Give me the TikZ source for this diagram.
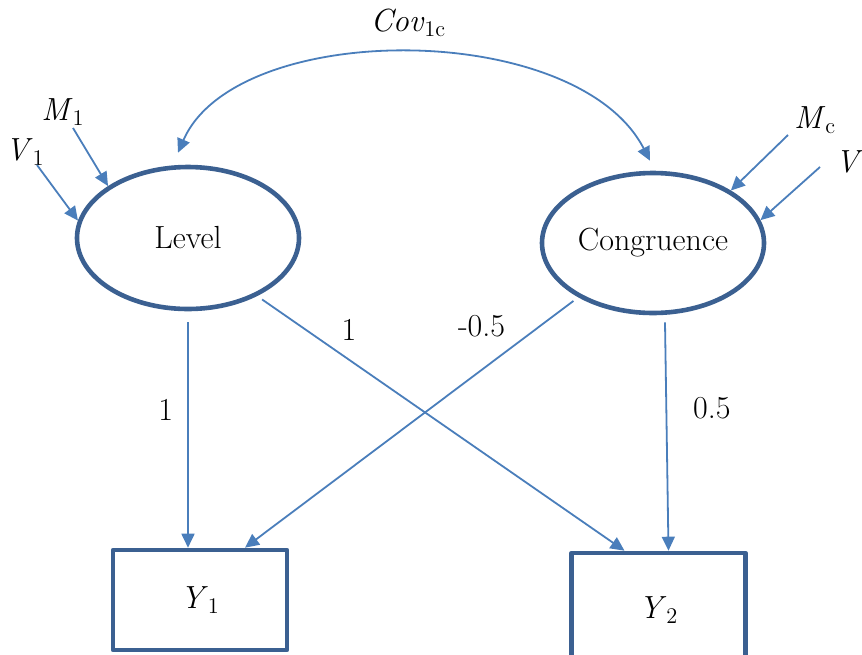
\documentclass[tikz,border=0pt]{standalone}
\usepackage{tikz}
\usetikzlibrary{shapes,arrows.meta,positioning,calc}
\usepackage{xcolor}
\definecolor{semline}{HTML}{3B6091}
\definecolor{semarrow}{HTML}{4A7EBB}

\begin{document}
\begin{tikzpicture}[
  x=0.5pt, y=-0.5pt,
  latent/.style={draw=semline, line width=2.3pt, ellipse, inner sep=0pt,
                 minimum width=111pt, minimum height=71pt,
                 font=\fontsize{16}{19}\selectfont},
  obs/.style={draw=semline, line width=2.3pt, line join=round,
              minimum width=87pt, minimum height=50pt,
              font=\fontsize{16}{19}\selectfont},
  arr/.style={draw=semarrow, line width=0.9pt,
              -{Triangle[length=7pt,width=6.5pt]}},
  cov/.style={arr, {Triangle[length=7pt,width=6.5pt]}-{Triangle[length=7pt,width=6.5pt]}},
  lbl/.style={font=\fontsize{16}{19}\selectfont, inner sep=0pt}
]
\clip (0,0) rectangle (862,654);

\node[latent] (level) at (188,238) {Level};
\node[latent, minimum height=70pt] (cong) at (653,243) {Congruence};
\node[obs] (y1) at (200,600) {\textit{Y}\textsubscript{1}};
\node[obs, minimum height=57pt] (y2) at (658.5,610) {\textit{Y}\textsubscript{2}};

% error terms
\node[lbl] (m1) at (63,112) {\textit{M}\textsubscript{1}};
\node[lbl] (v1) at (25,152) {\textit{V}\textsubscript{1}};
\node[lbl] (mc) at (815,120) {\textit{M}\textsubscript{c}};
\node[lbl, anchor=west] (vc) at (835,164) {\textit{V}\textsubscript{c}};
\coordinate (m1s) at (73,128);
\coordinate (v1s) at (37,165);
\coordinate (mcs) at (788,135);
\coordinate (vcs) at (820,167);

\draw[arr] (m1s) -- (level.147);
\draw[arr] (v1s) -- (level.171);
\draw[arr] (mcs) -- (cong.34);
\draw[arr] (vcs) -- (cong.12);

\draw[cov] ([shift={(-5pt,6pt)}]level.north)
  .. controls (236,19) and (577,19) .. ([shift={(-1.5pt,5pt)}]cong.north)
  node[lbl, midway, above=8pt] {\textit{Cov}\textsubscript{1c}};

\draw[arr] ([yshift=-5.5pt]level.south) -- ([xshift=-6pt]y1.north)
  node[lbl, pos=0.39, left=7pt] {1};
\draw[arr, shorten <=3pt] (level.-40) -- ([xshift=-17pt]y2.north)
  node[lbl, pos=0.25, above=9pt] {1};
\draw[arr, shorten <=3pt] (cong.-144) -- ([xshift=22.5pt]y1.north)
  node[lbl, pos=0.29, above=16pt] {-0.5};
\draw[arr] ([shift={(6pt,-3.5pt)}]cong.south) -- ([xshift=5pt]y2.north)
  node[lbl, pos=0.375, right=13pt] {0.5};
\end{tikzpicture}
\end{document}
